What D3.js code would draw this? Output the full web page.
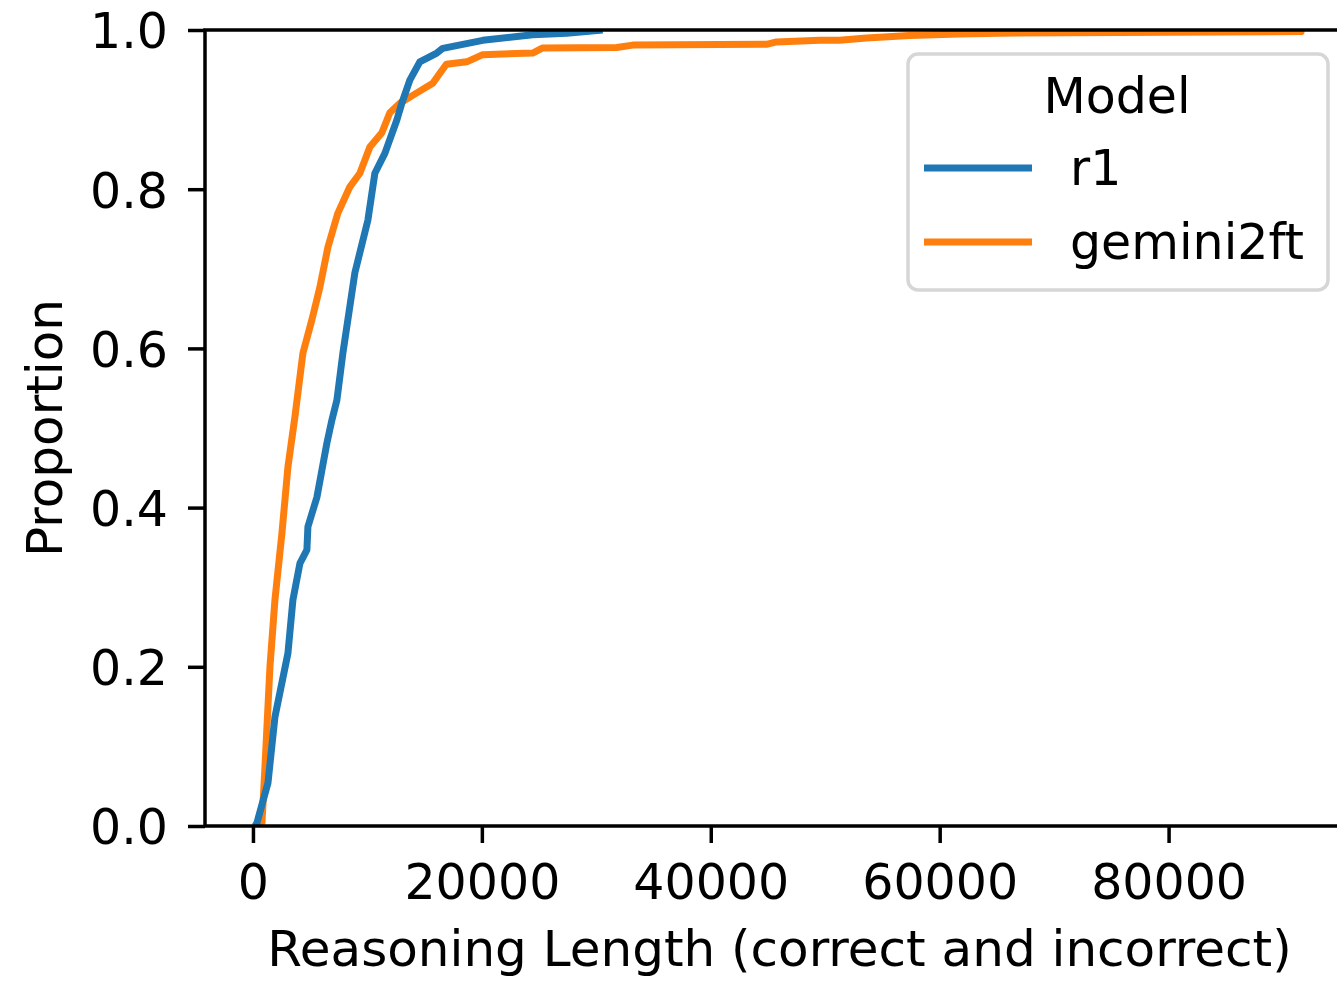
<!DOCTYPE html>
<html>
<head>
<meta charset="utf-8">
<script src="https://cdn.jsdelivr.net/npm/d3@7"></script>
<style>
  body { margin: 0; background: #fff; }
  svg { display: block; font-family: "DejaVu Sans", sans-serif; }
</style>
</head>
<body>
<div id="viz"></div>
<script>
// series (reasoning length, cumulative proportion)
const models = ["r1", "gemini2ft"];
const colors = ["#1f77b4", "#ff7f0e"];

const r1Length = [175, 349, 1310, 1921, 3056, 3492, 4103, 4714, 4802, 5587, 6024, 6460, 6897, 7333, 7857, 8905, 10040, 10651, 11524, 12571, 13008, 13706, 14579, 16063, 16587, 20079, 24444, 27412, 30555];
const r1Prop = [0, 0.004, 0.054, 0.137, 0.217, 0.284, 0.330, 0.347, 0.376, 0.413, 0.447, 0.481, 0.510, 0.535, 0.594, 0.695, 0.761, 0.820, 0.845, 0.887, 0.908, 0.937, 0.960, 0.971, 0.977, 0.987, 0.994, 0.996, 1.0];

const geminiLength = [437, 786, 1048, 1484, 1921, 2532, 3056, 3667, 4365, 5151, 5849, 6548, 7421, 8468, 9341, 10214, 11262, 11960, 12833, 14317, 15714, 16300, 16900, 18682, 20079, 24444, 25317, 31777, 33174, 44872, 45745, 49499, 51245, 53602, 57356, 61721, 65213, 91578, 91600];
const geminiProp = [0, 0.004, 0.074, 0.2, 0.284, 0.368, 0.451, 0.514, 0.594, 0.636, 0.677, 0.727, 0.770, 0.803, 0.820, 0.853, 0.871, 0.896, 0.908, 0.921, 0.933, 0.945, 0.957, 0.960, 0.969, 0.971, 0.9775, 0.978, 0.981, 0.982, 0.985, 0.987, 0.987, 0.990, 0.993, 0.995, 0.996, 0.998, 1.0];

const xTicks = [0, 20000, 40000, 60000, 80000];
const yTicks = [0, 0.2, 0.4, 0.6, 0.8, 1.0];

const width = 1337, height = 982;
const plotL = 205, plotR = 1354, plotT = 30, plotB = 826;
const fontSize = 49;

const svg = d3.select("#viz").append("svg")
    .attr("width", width)
    .attr("height", height);

svg.append("rect").attr("width", width).attr("height", height).attr("fill", "#fff");

const x = d3.scaleLinear().domain([-4190, 96200]).range([plotL, plotR]);
const y = d3.scaleLinear().domain([0, 1]).range([plotB, plotT]);

svg.append("clipPath").attr("id", "plotclip")
  .append("rect")
    .attr("x", plotL).attr("y", plotT)
    .attr("width", plotR - plotL).attr("height", plotB - plotT);

const series = [
    { name: models[0], color: colors[0], pts: r1Length.map((v, i) => [v, r1Prop[i]]) },
    { name: models[1], color: colors[1], pts: geminiLength.map((v, i) => [v, geminiProp[i]]) }
];

const line = d3.line().x(d => x(d[0])).y(d => y(d[1]));

// orange under blue
svg.append("g").attr("clip-path", "url(#plotclip)")
  .selectAll("path")
  .data(series.slice().reverse())
  .join("path")
    .attr("d", d => line(d.pts))
    .attr("fill", "none")
    .attr("stroke", d => d.color)
    .attr("stroke-width", 7)
    .attr("stroke-linejoin", "round");

// axes
const xAxis = svg.append("g")
    .attr("transform", `translate(0,${plotB})`)
    .call(d3.axisBottom(x).tickValues(xTicks).tickFormat(d3.format("d"))
        .tickSize(17).tickSizeOuter(0).tickPadding(21));

const yAxis = svg.append("g")
    .attr("transform", `translate(${plotL},0)`)
    .call(d3.axisLeft(y).tickValues(yTicks).tickFormat(d3.format(".1f"))
        .tickSize(17).tickSizeOuter(0).tickPadding(20));
yAxis.selectAll("text").attr("dy", "0.365em");

[xAxis, yAxis].forEach(g => {
    g.select(".domain").remove();
    g.selectAll("line").attr("stroke", "#000").attr("stroke-width", 3.5);
    g.selectAll("text")
        .attr("fill", "#000")
        .style("font-size", fontSize + "px")
        .style("font-family", "'DejaVu Sans', sans-serif");
});

// spines
svg.append("rect")
    .attr("x", plotL).attr("y", plotT)
    .attr("width", plotR - plotL).attr("height", plotB - plotT)
    .attr("fill", "none")
    .attr("stroke", "#000")
    .attr("stroke-width", 3.5);

// axis labels
svg.append("text")
    .attr("x", (plotL + plotR) / 2).attr("y", 966)
    .attr("text-anchor", "middle")
    .style("font-size", "50px")
    .text("Reasoning Length (correct and incorrect)");

svg.append("text")
    .attr("transform", `translate(62,${(plotT + plotB) / 2}) rotate(-90)`)
    .attr("text-anchor", "middle")
    .style("font-size", "50px")
    .text("Proportion");

// legend
const legend = svg.append("g");
legend.append("rect")
    .attr("x", 908).attr("y", 54)
    .attr("width", 420).attr("height", 236)
    .attr("rx", 10)
    .attr("fill", "#fff").attr("fill-opacity", 0.8)
    .attr("stroke", "#d6d6d6").attr("stroke-width", 3.5);

legend.append("text")
    .attr("x", 1117).attr("y", 113)
    .attr("text-anchor", "middle")
    .style("font-size", fontSize + "px")
    .text("Model");

const entries = legend.selectAll("g.entry")
  .data(series)
  .join("g")
    .attr("class", "entry")
    .attr("transform", (d, i) => `translate(0,${168 + i * 74})`);

entries.append("line")
    .attr("x1", 924).attr("x2", 1032)
    .attr("stroke", d => d.color)
    .attr("stroke-width", 7);

entries.append("text")
    .attr("x", 1070).attr("y", 17)
    .style("font-size", fontSize + "px")
    .text(d => d.name);
</script>
</body>
</html>
